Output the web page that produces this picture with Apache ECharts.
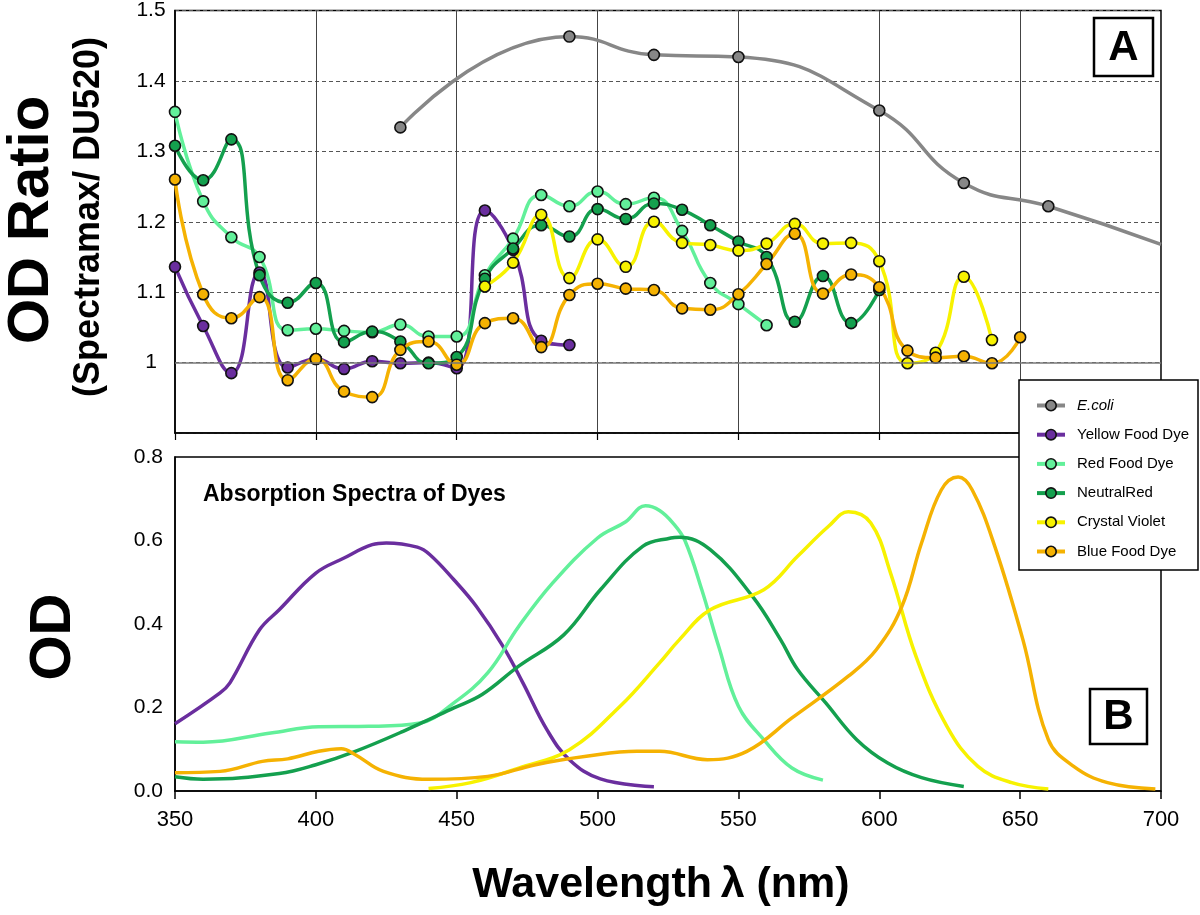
<!DOCTYPE html>
<html><head><meta charset="utf-8">
<script src="https://cdn.jsdelivr.net/npm/echarts@6/dist/echarts.min.js"></script>
<style>html,body{margin:0;padding:0;background:#fff}#c{width:1200px;height:915px}</style>
</head><body><div id="c"></div>
<script>
// ---------- Panel A: OD ratio (Spectramax / DU520) ----------
const wavelengths = [350,360,370,380,390,400,410,420,430,440,450,460,470,480,490,500,510,520,530,540,550,560,570,580,590,600,610,620,630,640,650];

const ecoliX = [430,490,520,550,600,630,660,700];
const ecoliY = [1.334,1.463,1.437,1.434,1.358,1.255,1.222,1.168];

const yellowFoodDye = [1.136,1.052,0.985,1.128,0.993,1.005,0.991,1.002,0.999,1.000,0.992,1.216,1.160,1.031,1.025,
  null,null,null,null,null,null,null,null,null,null,null,null,null,null,null,null];
const redFoodDye = [1.356,1.229,1.178,1.150,1.046,1.048,1.045,1.043,1.054,1.037,1.037,1.124,1.176,1.238,1.222,1.243,1.225,1.234,1.187,1.113,1.083,1.053,
  null,null,null,null,null,null,null,null,null];
const neutralRed = [1.308,1.259,1.317,1.124,1.085,1.113,1.029,1.044,1.030,0.999,1.008,1.119,1.162,1.195,1.179,1.218,1.204,1.226,1.217,1.195,1.172,1.150,1.058,1.123,1.056,1.103,
  null,null,null,null,null];
const crystalViolet = [null,null,null,null,null,null,null,null,null,null,null,
  1.108,1.142,1.210,1.120,1.175,1.136,1.200,1.170,1.167,1.159,1.169,1.197,1.169,1.170,1.144,0.999,1.014,1.122,1.032,null];
const blueFoodDye = [1.260,1.097,1.063,1.093,0.975,1.005,0.959,0.951,1.018,1.030,0.997,1.056,1.063,1.022,1.096,1.112,1.105,1.103,1.077,1.075,1.097,1.140,1.183,1.098,1.125,1.107,1.017,1.007,1.009,0.999,1.036];

const ratioTicks = [0.9,1.0,1.1,1.2,1.3,1.4,1.5];

// ---------- Panel B: absorption spectra ----------
const specYellowX = [350,366,369.5,380,387,400,410,420,425,436,440.5,449,457,466.5,473.5,482,490,501,520];
const specYellowY = [0.161,0.235,0.259,0.386,0.434,0.522,0.558,0.590,0.594,0.584,0.566,0.506,0.442,0.346,0.259,0.147,0.075,0.029,0.010];
const specRedX = [350,360,384,401,419,437,449,461,472,484,500,510,517,522,527,531,537,543,550,559,569,580];
const specRedY = [0.118,0.117,0.139,0.154,0.155,0.163,0.211,0.283,0.394,0.498,0.606,0.645,0.683,0.672,0.640,0.600,0.482,0.346,0.203,0.123,0.055,0.026];
const specNeutralX = [350,360,387,400,414,431,449,459,472,488,501,516,526,529,540,555,565,571,581,592,603,615,630];
const specNeutralY = [0.034,0.028,0.042,0.063,0.095,0.143,0.199,0.231,0.299,0.374,0.482,0.586,0.606,0.608,0.578,0.466,0.362,0.291,0.211,0.123,0.067,0.032,0.011];
const specVioletX = [440,455,472,490,508,522,529,540,559,571,582,589,597,604,613,624,635,647,660];
const specVioletY = [0.006,0.020,0.055,0.099,0.203,0.307,0.362,0.434,0.482,0.562,0.634,0.669,0.642,0.522,0.323,0.155,0.059,0.020,0.005];
const specBlueX = [350,366,381,390,401,409,414,424,440,461,478,496,514,522,539,553,569,589,599,608,615,622,628,633,641,651,660,669,681,698];
const specBlueY = [0.044,0.047,0.071,0.077,0.095,0.101,0.087,0.047,0.028,0.035,0.063,0.083,0.095,0.095,0.075,0.095,0.175,0.275,0.339,0.442,0.594,0.721,0.752,0.721,0.586,0.362,0.123,0.059,0.020,0.005];

const wlTicks = [350,400,450,500,550,600,650,700];

const C = {
  ecoli: '#878787', yellowDye: '#6a2e9e', redDye: '#62f09a', neutral: '#14a04e', violet: '#f7f200', blue: '#f5b202'
};
const FONT = '"Liberation Sans", Arial, Helvetica, sans-serif';

function pairs(xs, ys){ const o=[]; for(let i=0;i<xs.length;i++){ if(ys[i]!=null) o.push([xs[i], ys[i]]); } return o; }

function ratioSeries(name, color, data, extra){
  return Object.assign({
    name, type:'line', xAxisIndex:0, yAxisIndex:0, data, smooth:0.5,
    symbol:'circle', symbolSize:11, showSymbol:true,
    lineStyle:{color, width:3.5},
    itemStyle:{color, borderColor:'#111', borderWidth:1.6},
    emphasis:{disabled:true}
  }, extra||{});
}
function specSeries(name, color, xs, ys){
  return {
    name, type:'line', xAxisIndex:1, yAxisIndex:1, data:pairs(xs, ys), smooth:0.4,
    symbol:'none', lineStyle:{color, width:3.5}, itemStyle:{color}, emphasis:{disabled:true}
  };
}

const ecoliData = pairs(ecoliX, ecoliY).map((p,i,a)=> i===a.length-1 ? {value:p, symbol:'none'} : p);

const option = {
  animation:false,
  backgroundColor:'#fff',
  textStyle:{fontFamily:FONT},
  grid:[
    {left:175, top:10, width:986, height:423, show:true, borderColor:'#000', borderWidth:1.5, backgroundColor:'#fff'},
    {left:175, top:457, width:986, height:334, show:true, borderColor:'#000', borderWidth:1.5, backgroundColor:'#fff'}
  ],
  xAxis:[
    {type:'value', gridIndex:0, min:350, max:700, interval:50,
      axisLine:{show:true, lineStyle:{color:'#000', width:1.5}},
      axisTick:{show:true, length:7, lineStyle:{color:'#000', width:1.2}},
      axisLabel:{show:false},
      splitLine:{show:true, lineStyle:{color:'#444', width:1, type:'solid'}}},
    {type:'value', gridIndex:1, min:350, max:700, interval:50,
      axisLine:{show:true, lineStyle:{color:'#000', width:1.5}},
      axisTick:{show:true, length:8, lineStyle:{color:'#000', width:1.5}},
      axisLabel:{show:true, fontSize:22, color:'#000', margin:18, fontFamily:FONT,
        formatter:v=> wlTicks.indexOf(v)>=0 ? String(v) : ''},
      splitLine:{show:false}}
  ],
  yAxis:[
    {type:'value', gridIndex:0, min:0.9, max:1.5, interval:0.1,
      axisLine:{show:true, lineStyle:{color:'#000', width:1.5}},
      axisTick:{show:false},
      axisLabel:{show:true, fontSize:21, color:'#000', align:'center', margin:24, fontFamily:FONT,
        formatter:v=>{ if(Math.abs(v-ratioTicks[0])<1e-6) return ''; if(Math.abs(v-1)<1e-6) return '1'; return v.toFixed(1);} },
      splitLine:{show:true, lineStyle:{color:'#555', width:1, type:[4,3]}}},
    {type:'value', gridIndex:1, min:0, max:0.8, interval:0.2,
      axisLine:{show:true, lineStyle:{color:'#000', width:1.5}},
      axisTick:{show:false},
      axisLabel:{show:true, fontSize:21, color:'#000', margin:12, padding:[14,0,0,0], fontFamily:FONT,
        formatter:v=>v.toFixed(1)},
      splitLine:{show:false}}
  ],
  legend:{
    show:true, orient:'vertical', left:1035, top:398, padding:0, itemGap:14.2,
    itemWidth:28, itemHeight:13, z:60,
    data:['E.coli','Yellow Food Dye','Red Food Dye','NeutralRed','Crystal Violet','Blue Food Dye'],
    selectedMode:false,
    lineStyle:{width:4},
    itemStyle:{borderColor:'#111', borderWidth:1.6},
    formatter:n=> n==='E.coli' ? '{i|E.coli}' : n,
    textStyle:{fontSize:15, color:'#000', fontFamily:FONT, lineHeight:13, padding:[0,0,0,7],
      rich:{i:{fontStyle:'italic', fontSize:15, fontFamily:FONT, lineHeight:13}}}
  },
  series:[
    ratioSeries('E.coli', C.ecoli, ecoliData, {
      markLine:{silent:true, symbol:'none', label:{show:false}, animation:false,
        lineStyle:{type:'solid', color:'#777', width:1.5}, data:[{yAxis:1}]}
    }),
    ratioSeries('Yellow Food Dye', C.yellowDye, pairs(wavelengths, yellowFoodDye)),
    ratioSeries('Red Food Dye', C.redDye, pairs(wavelengths, redFoodDye)),
    ratioSeries('NeutralRed', C.neutral, pairs(wavelengths, neutralRed)),
    ratioSeries('Crystal Violet', C.violet, pairs(wavelengths, crystalViolet)),
    ratioSeries('Blue Food Dye', C.blue, pairs(wavelengths, blueFoodDye)),
    specSeries('Yellow Food Dye spectrum', C.yellowDye, specYellowX, specYellowY),
    specSeries('Red Food Dye spectrum', C.redDye, specRedX, specRedY),
    specSeries('NeutralRed spectrum', C.neutral, specNeutralX, specNeutralY),
    specSeries('Crystal Violet spectrum', C.violet, specVioletX, specVioletY),
    specSeries('Blue Food Dye spectrum', C.blue, specBlueX, specBlueY)
  ],
  graphic:[
    {type:'rect', z:50, shape:{x:1019, y:380, width:179, height:190}, style:{fill:'#fff', stroke:'#000', lineWidth:1.5}},
    {type:'rect', z:50, shape:{x:1094, y:18, width:59, height:58}, style:{fill:'#fff', stroke:'#000', lineWidth:2.5}},
    {type:'text', z:51, x:1123.5, y:48, style:{text:'A', font:'bold 42px '+FONT, fill:'#000', align:'center', verticalAlign:'middle'}},
    {type:'rect', z:50, shape:{x:1090, y:689, width:57, height:55}, style:{fill:'#fff', stroke:'#000', lineWidth:2.5}},
    {type:'text', z:51, x:1118.5, y:717.5, style:{text:'B', font:'bold 42px '+FONT, fill:'#000', align:'center', verticalAlign:'middle'}},
    {type:'text', z:51, x:203, y:495, style:{text:'Absorption Spectra of Dyes', font:'bold 23px '+FONT, fill:'#000', align:'left', verticalAlign:'middle'}},
    {type:'text', z:51, x:32, y:220, rotation:Math.PI/2, style:{text:'OD Ratio', font:'bold 58px '+FONT, fill:'#000', align:'center', verticalAlign:'middle'}},
    {type:'text', z:51, x:89, y:217, rotation:Math.PI/2, style:{text:'(Spectramax/ DU520)', font:'bold 36px '+FONT, fill:'#000', align:'center', verticalAlign:'middle'}},
    {type:'text', z:51, x:54, y:637, rotation:Math.PI/2, style:{text:'OD', font:'bold 58px '+FONT, fill:'#000', align:'center', verticalAlign:'middle'}},
    {type:'text', z:51, x:661, y:885, style:{text:'Wavelength\u2009\u03BB (nm)', font:'bold 43px '+FONT, fill:'#000', align:'center', verticalAlign:'middle'}}
  ]
};
echarts.init(document.getElementById('c'), null, {renderer:'canvas'}).setOption(option);
</script></body></html>
